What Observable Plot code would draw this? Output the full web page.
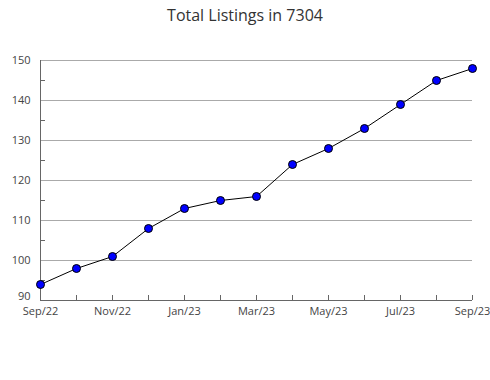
<!DOCTYPE html>
<html>
<head>
<meta charset="utf-8">
<script src="https://cdn.jsdelivr.net/npm/d3@7"></script>
<script src="https://cdn.jsdelivr.net/npm/@observablehq/plot@0.6"></script>
<style>
  body { margin: 0; background: #fff; font-family: "Open Sans", sans-serif; }
  #wrap { width: 490px; height: 380px; position: relative; }
  #title { height: 40px; line-height: 30px; text-align: center; font-size: 16px; color: #333; }
</style>
</head>
<body>
<div id="wrap">
  <div id="title">Total Listings in 7304</div>
  <div id="chart"></div>
</div>
<script>
const months = ["Sep/22","Oct/22","Nov/22","Dec/22","Jan/23","Feb/23","Mar/23","Apr/23","May/23","Jun/23","Jul/23","Aug/23","Sep/23"];
const listings = [94, 98, 101, 108, 113, 115, 116, 124, 128, 133, 139, 145, 148];
const labeledMonths = ["Sep/22","Nov/22","Jan/23","Mar/23","May/23","Jul/23","Sep/23"];
const yMajor = [100, 110, 120, 130, 140, 150];
const yBottom = [90];
const yGrid = [100, 110, 120, 130, 140, 150];
const yMinor = [95, 105, 115, 125, 135, 145];

const data = months.map((m, i) => ({month: m, value: listings[i]}));

const chart = Plot.plot({
  width: 490,
  height: 340,
  marginTop: 20,
  marginLeft: 40,
  marginRight: 18,
  marginBottom: 80,
  style: {fontFamily: "Open Sans, sans-serif", fontSize: "11px", color: "#444", background: "#fff"},
  x: {type: "point", domain: months, padding: 0},
  y: {domain: [90, 150]},
  marks: [
    Plot.gridY(yGrid, {stroke: "#aaa", strokeOpacity: 1}),
    Plot.axisY(yMajor, {tickSize: 0, tickPadding: 10, label: null, fill: "#444"}),
    Plot.axisY(yBottom, {tickSize: 0, tickPadding: 10, label: null, fill: "#444", dy: -4}),
    Plot.axisY(yMinor, {tickSize: -5, tickFormat: () => "", label: null, stroke: "#666"}),
    Plot.axisX(months, {tickSize: -5, tickFormat: () => "", label: null, stroke: "#666"}),
    Plot.axisX(labeledMonths, {tickSize: 0, tickPadding: 7, label: null, fill: "#444"}),
    Plot.ruleY([90], {stroke: "#666"}),
    Plot.ruleX([months[0]], {stroke: "#666"}),
    Plot.line(data, {x: "month", y: "value", stroke: "#000", strokeWidth: 1}),
    Plot.dot(data, {x: "month", y: "value", r: 4, fill: "#0000ff", stroke: "#000", strokeWidth: 1})
  ]
});
document.getElementById("chart").appendChild(chart);
</script>
</body>
</html>
